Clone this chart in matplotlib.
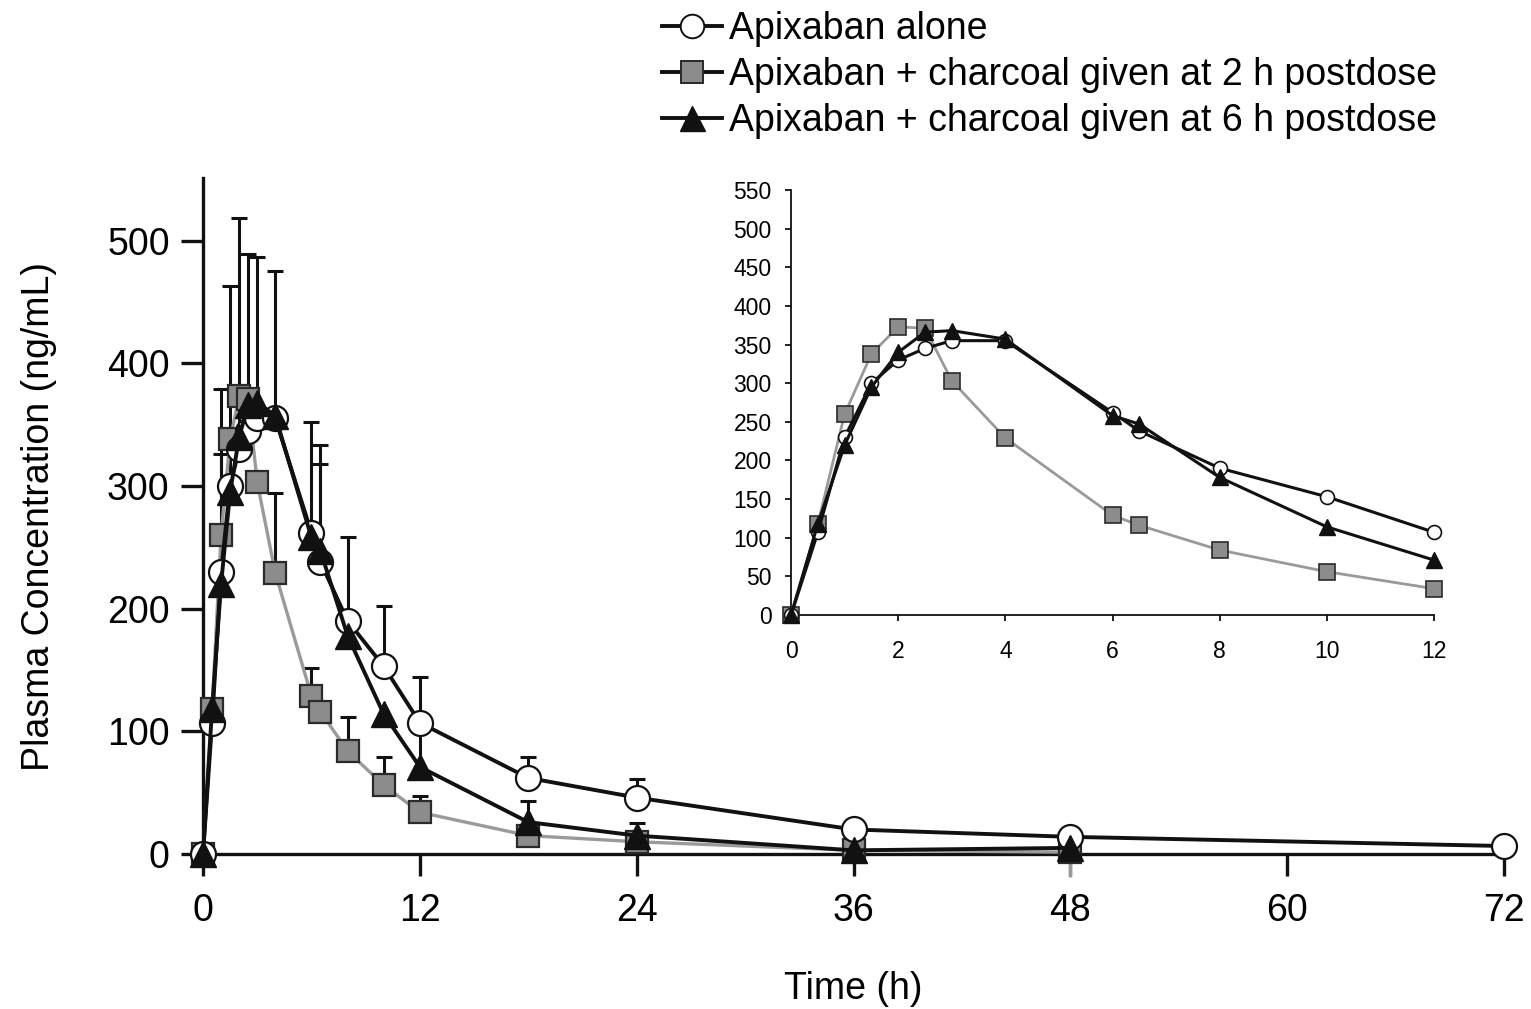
import numpy as np
import matplotlib
matplotlib.use("Agg")
import matplotlib.pyplot as plt
from matplotlib.lines import Line2D

plt.rcParams["font.family"] = ["Liberation Sans", "DejaVu Sans"]

# Sampling times (h)
times_alone = [0, 0.5, 1, 1.5, 2, 2.5, 3, 4, 6, 6.5, 8, 10, 12, 18, 24, 36, 48, 72]
times_char = [0, 0.5, 1, 1.5, 2, 2.5, 3, 4, 6, 6.5, 8, 10, 12, 18, 24, 36, 48]

# Mean plasma concentrations (ng/mL)
conc_alone = [0, 107, 230, 300, 330, 345, 355, 355, 262, 238, 190, 153, 107, 62, 46, 20, 14, 6.5]
conc_char2h = [0, 118, 260, 338, 373, 371, 303, 229, 129, 116, 84, 56, 34, 15, 10, 3, 1.5]
conc_char6h = [0, 118, 220, 295, 340, 366, 368, 357, 258, 247, 178, 114, 71, 26, 15, 3, 5]

# Upper standard deviations (0 = not shown)
sd_alone = [0, 0, 96, 163, 188, 0, 0, 120, 0, 95, 68, 49, 37, 17, 15, 0, 0, 0]
sd_char2h = [0, 0, 119, 0, 0, 0, 0, 65, 23, 0, 28, 23, 13, 0, 0, 0, 0]
sd_char6h = [0, 0, 0, 0, 0, 123, 119, 0, 94, 71, 0, 0, 35, 17, 10, 0, 0]
sd_char2h_lower = [0, 0, 0, 0, 0, 0, 0, 0, 0, 0, 0, 0, 0, 0, 0, 0, 20]

labels = ["Apixaban alone",
          "Apixaban + charcoal given at 2 h postdose",
          "Apixaban + charcoal given at 6 h postdose"]

main_xticks = [0, 12, 24, 36, 48, 60, 72]
main_yticks = [0, 100, 200, 300, 400, 500]
inset_xticks = [0, 2, 4, 6, 8, 10, 12]
inset_yticks = list(range(0, 551, 50))

BLACK = "#111111"
LINE_GRAY = "#9a9a9a"
FILL_GRAY = "#8c8c8c"
EDGE = "#2a2a2a"

fig = plt.figure(figsize=(15.31, 10.09), dpi=100)

# ---------------- main panel ----------------
ax = fig.add_axes([0.1326, 0.1536, 0.8498, 0.6700])
ax.set_xlim(0, 72)
ax.set_ylim(0, 551)


def upper_err(ax, t, y, sd, color=BLACK, lw=2.2, cap=12, z=2):
    """Draw one-sided (upper) error bars with a cap only at the top."""
    t = np.asarray(t, float); y = np.asarray(y, float); sd = np.asarray(sd, float)
    m = sd > 0
    ax.vlines(t[m], y[m], y[m] + sd[m], color=color, lw=lw, zorder=z,
              clip_on=False)
    ax.plot(t[m], y[m] + sd[m], linestyle="none", marker="_", markersize=cap,
            markeredgewidth=lw, color=color, zorder=z, clip_on=False)


upper_err(ax, times_char, conc_char2h, sd_char2h)
upper_err(ax, times_alone, conc_alone, sd_alone)
upper_err(ax, times_char, conc_char6h, sd_char6h)

# grey downward segment of the 2 h series at 48 h
tc = np.asarray(times_char, float); lo = np.asarray(sd_char2h_lower, float)
yc = np.asarray(conc_char2h, float)
mk = lo > 0
ax.vlines(tc[mk], yc[mk] - lo[mk], yc[mk], color=LINE_GRAY, lw=2.2,
          zorder=2, clip_on=False)

ax.plot(times_char, conc_char2h, color=LINE_GRAY, lw=2.4, marker="s",
        markersize=16, markerfacecolor=FILL_GRAY, markeredgecolor=EDGE,
        markeredgewidth=1.6, zorder=3, clip_on=False)
ax.plot(times_alone, conc_alone, color=BLACK, lw=2.8, marker="o",
        markersize=18, markerfacecolor="white", markeredgecolor=BLACK,
        markeredgewidth=1.6, zorder=4, clip_on=False)
ax.plot(times_char, conc_char6h, color=BLACK, lw=2.8, marker="^",
        markersize=19, markerfacecolor=BLACK, markeredgecolor=BLACK,
        zorder=5, clip_on=False)

for side in ["top", "right"]:
    ax.spines[side].set_visible(False)
for side in ["left", "bottom"]:
    ax.spines[side].set_linewidth(2.4)
    ax.spines[side].set_color(BLACK)
ax.set_xticks(main_xticks)
ax.set_yticks(main_yticks)
ax.tick_params(axis="both", direction="out", length=16, width=2.4,
               color=BLACK, labelsize=27)
ax.tick_params(axis="y", pad=8)
ax.tick_params(axis="x", pad=12)
ax.set_xlabel("Time (h)", fontsize=27, labelpad=30)
ax.set_ylabel("Plasma Concentration (ng/mL)", fontsize=27, labelpad=36)

# ---------------- inset panel ----------------
ins = fig.add_axes([0.5167, 0.3905, 0.4200, 0.4212])
ins.set_xlim(0, 12)
ins.set_ylim(0, 550)


def window(t, y, tmax=12):
    t = np.asarray(t, float); y = np.asarray(y, float)
    m = t <= tmax
    return t[m], y[m]


t, y = window(times_char, conc_char2h)
ins.plot(t, y, color=LINE_GRAY, lw=2.0, marker="s", markersize=11,
         markerfacecolor=FILL_GRAY, markeredgecolor=EDGE, markeredgewidth=1.2,
         zorder=3, clip_on=False)
t, y = window(times_alone, conc_alone)
ins.plot(t, y, color=BLACK, lw=2.2, marker="o", markersize=10,
         markerfacecolor="white", markeredgecolor=BLACK, markeredgewidth=1.2,
         zorder=4, clip_on=False)
t, y = window(times_char, conc_char6h)
ins.plot(t, y, color=BLACK, lw=2.2, marker="^", markersize=12,
         markerfacecolor=BLACK, markeredgecolor=BLACK, zorder=5, clip_on=False)

for side in ["top", "right"]:
    ins.spines[side].set_visible(False)
for side in ["left", "bottom"]:
    ins.spines[side].set_linewidth(1.3)
    ins.spines[side].set_color(BLACK)
ins.set_xticks(inset_xticks)
ins.set_yticks(inset_yticks)
ins.tick_params(axis="both", direction="out", length=4, width=1.3,
                color=BLACK, labelsize=16.5)
ins.tick_params(axis="y", pad=10)
ins.tick_params(axis="x", pad=14)

# ---------------- legend ----------------
handles = [
    Line2D([], [], color=BLACK, lw=2.8, marker="o", markersize=17,
           markerfacecolor="white", markeredgecolor=BLACK, markeredgewidth=1.4),
    Line2D([], [], color=BLACK, lw=2.8, marker="s", markersize=16,
           markerfacecolor=FILL_GRAY, markeredgecolor=EDGE, markeredgewidth=1.4),
    Line2D([], [], color=BLACK, lw=2.8, marker="^", markersize=18,
           markerfacecolor=BLACK, markeredgecolor=BLACK),
]
fig.legend(handles, labels, loc="upper left", bbox_to_anchor=(0.4225, 1.004),
           frameon=False, fontsize=27, handlelength=1.6, handletextpad=0.2,
           labelspacing=0.27, borderaxespad=0)

fig.savefig("out.png", dpi=100)
